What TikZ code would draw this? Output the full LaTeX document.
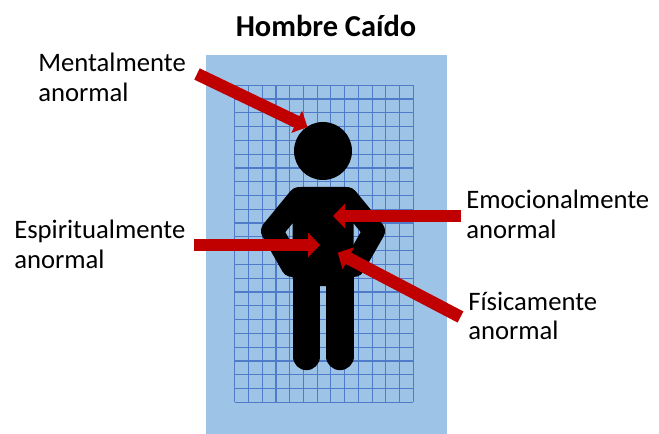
\documentclass[tikz,border=0pt]{standalone}
\usepackage{fontspec}
\setmainfont{Carlito}
\usetikzlibrary{arrows.meta,positioning}

\begin{document}
\begin{tikzpicture}[x=0.75pt,y=-0.75pt,>={Triangle[length=9pt,width=18pt]}]
	  \definecolor{panelblue}{HTML}{9DC3E6}
	  \definecolor{gridblue}{HTML}{4F7BC8}
	  \definecolor{arrowred}{HTML}{C00000}
	  \tikzstyle{etiqueta}=[align=left,inner sep=0pt,anchor=north west,font=\fontsize{20}{22}\selectfont]
	  \tikzstyle{flecha}=[->,arrowred,line width=9.4pt]
	  \tikzstyle{cuerpo}=[black,line width=16.5pt,line cap=round,line join=round]

	  \useasboundingbox (0,0) rectangle (659,434);
	  \fill[panelblue] (206,55) rectangle (447,434);

	  % cuadricula
	  \foreach \i in {0,...,13}
	    \draw[gridblue,line width=0.9pt] ({234.7+\i*13.74},85.3) -- ({234.7+\i*13.74},402.3);
	  \foreach \j in {0,...,23}
	    \draw[gridblue,line width=0.9pt] (234.7,{85.3+\j*13.78}) -- (413.3,{85.3+\j*13.78});

	  % figura
	  \fill[black] (323,151) circle (21.75pt);
	  \fill[black,rounded corners=6pt] (292.7,187) rectangle (353.7,286);
	  \draw[cuerpo] (299,198) -- (272,231) -- (292,266);
	  \draw[cuerpo] (347,198) -- (374,231) -- (354,266);
	  \draw[cuerpo,line width=20.5pt] (306.4,250) -- (306.4,356.5);
	  \draw[cuerpo,line width=20.5pt] (340,250) -- (340,356.5);

	  \node (titulo) at (326,26) {\fontsize{22.8}{26}\selectfont\bfseries Hombre Caído};
	  \node[etiqueta] (mental) at (38,53) {Mentalmente\\anormal};
	  \node[etiqueta] (espiritual) at (14,220) {Espiritualmente\\anormal};
	  \node[etiqueta] (emocional) at (466,190) {Emocionalmente\\anormal};
	  \node[etiqueta] (fisico) at (468,292) {Físicamente\\anormal};

	  \coordinate (mentalA) at (197,74);
	  \coordinate (mentalB) at (307.5,127);
	  \coordinate (espiritualA) at (194,245);
	  \coordinate (espiritualB) at (320,245);
	  \coordinate (emocionalA) at (461,216);
	  \coordinate (emocionalB) at (333,216);
	  \coordinate (fisicoA) at (460.5,317);
	  \coordinate (fisicoB) at (337.7,252.7);

	  \draw[flecha] (mentalA) -- (mentalB);
	  \draw[flecha] (espiritualA) -- (espiritualB);
	  \draw[flecha] (emocionalA) -- (emocionalB);
	  \draw[flecha] (fisicoA) -- (fisicoB);
\end{tikzpicture}
\end{document}
